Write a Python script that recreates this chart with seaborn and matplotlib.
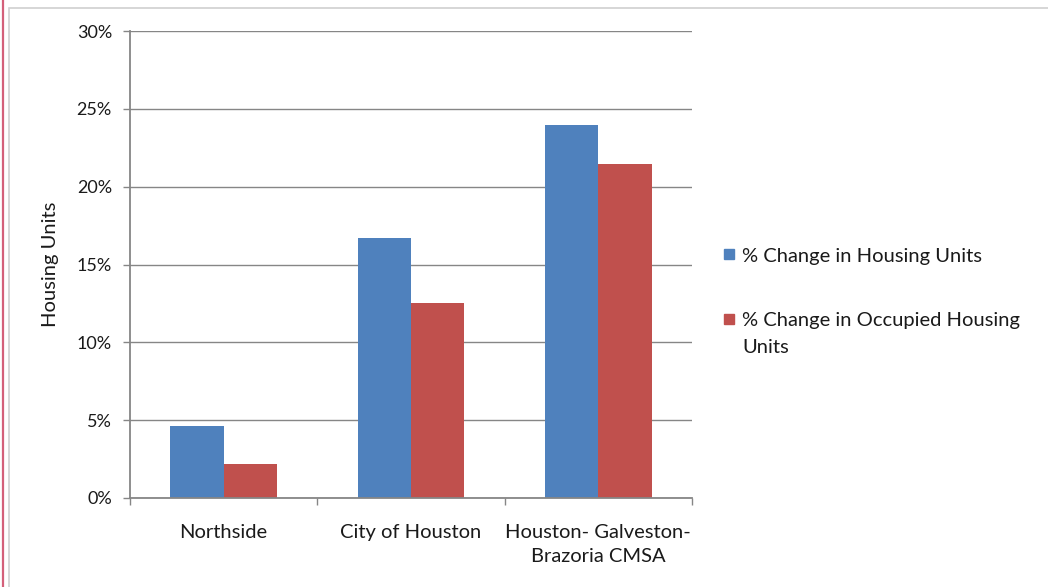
import matplotlib
matplotlib.use("Agg")
import matplotlib.pyplot as plt
import seaborn as sns
import pandas as pd
from matplotlib.patches import Rectangle
from matplotlib.lines import Line2D
from matplotlib.ticker import FixedLocator, PercentFormatter

categories = ["Northside", "City of Houston", "Houston- Galveston-\nBrazoria CMSA"]
series_names = ["% Change in Housing Units", "% Change in Occupied Housing Units"]
housing_units = [4.65, 16.7, 23.95]
occupied_units = [2.2, 12.55, 21.45]
y_ticks = [0, 5, 10, 15, 20, 25, 30]

colors = ["#4F81BD", "#C0504D"]

df = pd.DataFrame({
    "category": categories * 2,
    "series": [series_names[0]] * 3 + [series_names[1]] * 3,
    "value": housing_units + occupied_units,
})

sns.set_theme(style="white")
plt.rcParams["font.family"] = ["Lato", "DejaVu Sans"]

FS = 14.5
fig = plt.figure(figsize=(10.48, 5.87), dpi=100)
ax = fig.add_axes([130 / 1048, 1 - 498 / 587, (692 - 130) / 1048, (498 - 31) / 587])

sns.barplot(data=df, x="category", y="value", hue="series", palette=colors,
            order=categories, hue_order=series_names, width=0.57, gap=0,
            ax=ax, legend=False, saturation=1, linewidth=0)

gc = "#868686"
tc = "#1a1a1a"
ax.set_ylim(0, 30)
ax.set_xlim(-0.5, 2.5)
ax.yaxis.set_major_locator(FixedLocator(y_ticks))
ax.yaxis.set_major_formatter(PercentFormatter(decimals=0))
ax.grid(axis="y", color=gc, linewidth=1)
ax.set_axisbelow(True)
for s in ["top", "right"]:
    ax.spines[s].set_visible(False)
for s in ["left", "bottom"]:
    ax.spines[s].set_color(gc)
    ax.spines[s].set_linewidth(1.3)
ax.tick_params(axis="y", which="major", length=5, color=gc, width=1, labelsize=13,
               labelcolor=tc, pad=8, left=True)
ax.tick_params(axis="x", which="major", length=0, labelsize=FS, labelcolor=tc, pad=19)
for t in ax.get_xticklabels():
    t.set_linespacing(1.45)
ax.xaxis.set_minor_locator(FixedLocator([-0.5, 0.5, 1.5, 2.5]))
ax.tick_params(axis="x", which="minor", length=5, color=gc, width=1, bottom=True)
ax.set_xlabel("")
ax.set_ylabel("Housing Units", fontsize=FS, color=tc, labelpad=13)

h1 = Line2D([], [], marker="s", linestyle="none", markersize=7,
            markerfacecolor=colors[0], markeredgecolor=colors[0])
h2 = Line2D([], [], marker="s", linestyle="none", markersize=7,
            markerfacecolor=colors[1], markeredgecolor=colors[1])
h_blank = Line2D([], [], linestyle="none", marker=None)

fig.legend([h1], ["% Change in Housing Units"], loc="center left",
           bbox_to_anchor=(719 / 1048, 1 - 256 / 587), frameon=False, fontsize=FS,
           handletextpad=0.15, handlelength=1.0, borderaxespad=0, borderpad=0,
           labelcolor=tc)
fig.legend([h2, h_blank], ["% Change in Occupied Housing", "Units"], loc="center left",
           bbox_to_anchor=(719 / 1048, 1 - 334 / 587), frameon=False, fontsize=FS,
           handletextpad=0.15, handlelength=1.0, borderaxespad=0, borderpad=0,
           labelspacing=0.45, labelcolor=tc)

# chart frame and page edge
fig.patches.append(Rectangle((9 / 1048, -0.1), 1.2, 1 - 8 / 587 + 0.1, transform=fig.transFigure,
                             fill=False, edgecolor="#D0D0D0", linewidth=1.2))
fig.lines.append(Line2D([2.5 / 1048, 2.5 / 1048], [0, 1], transform=fig.transFigure,
                        color="#D4607A", linewidth=1.6))

fig.savefig("out.png", dpi=100)
